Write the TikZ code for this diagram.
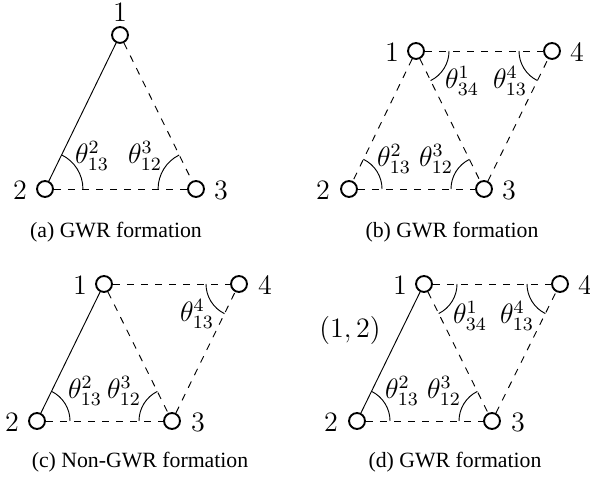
\documentclass[tikz,border=0pt]{standalone}
\usepackage{fontspec}
\newfontfamily\capfont{Liberation Serif}
\usetikzlibrary{angles}
\tikzset{
  vtx/.style={circle, draw, line width=0.8pt, minimum size=6.8pt, inner sep=0pt, fill=white},
  lbl/.style={inner sep=0pt, font=\fontsize{12}{14}\selectfont},
  captxt/.style={inner sep=0pt, font=\capfont\fontsize{9.3}{11}\selectfont},
  sedge/.style={line width=0.4pt},
  dedge/.style={line width=0.4pt, dashed},
  bigang/.style={draw, line width=0.4pt, angle radius=16.2pt},
  ang/.style={draw, line width=0.4pt, angle radius=14.1pt}
}
\begin{document}
\begin{tikzpicture}[x=0.4271pt, y=0.4271pt]
\useasboundingbox (0,0) rectangle (590,481);
% ---------- (a)
\node[vtx] (a1) at (120,446) {};
\node[vtx] (a2) at (45,292) {};
\node[vtx] (a3) at (196,292) {};
\node[lbl] (la1) at (120,469) {$1$};
\node[lbl] (la2) at (20,291) {$2$};
\node[lbl] (la3) at (221,291) {$3$};
\draw[sedge] (a1) -- (a2);
\draw[dedge] (a1) -- (a3);
\draw[dedge] (a2) -- (a3);
\pic[bigang] {angle = a3--a2--a1};
\pic[bigang] {angle = a1--a3--a2};
\node[lbl] (ta1) at (92,325) {$\theta^2_{13}$};
\node[lbl] (ta2) at (145,325) {$\theta^3_{12}$};
\node[captxt] (capa) at (116,249) {(a) GWR formation};
% ---------- (b)
\node[vtx] (b1) at (416,430) {};
\node[vtx] (b4) at (552,430) {};
\node[vtx] (b2) at (349,292) {};
\node[vtx] (b3) at (484,292) {};
\node[lbl] (lb1) at (392,429) {$1$};
\node[lbl] (lb4) at (577,429) {$4$};
\node[lbl] (lb2) at (323,291) {$2$};
\node[lbl] (lb3) at (509,291) {$3$};
\draw[dedge] (b1) -- (b2);
\draw[dedge] (b1) -- (b3);
\draw[dedge] (b1) -- (b4);
\draw[dedge] (b2) -- (b3);
\draw[dedge] (b3) -- (b4);
\pic[ang] {angle = b3--b1--b4};
\pic[ang] {angle = b1--b4--b3};
\pic[ang] {angle = b3--b2--b1};
\pic[ang] {angle = b1--b3--b2};
\node[lbl] (tb1) at (462,400) {$\theta^1_{34}$};
\node[lbl] (tb2) at (510,400) {$\theta^4_{13}$};
\node[lbl] (tb3) at (394,322) {$\theta^2_{13}$};
\node[lbl] (tb4) at (436,322) {$\theta^3_{12}$};
\node[captxt] (capb) at (452,249) {(b) GWR formation};
% ---------- (c)
\node[vtx] (c1) at (104,197) {};
\node[vtx] (c4) at (239,197) {};
\node[vtx] (c2) at (37,60) {};
\node[vtx] (c3) at (172,60) {};
\node[lbl] (lc1) at (80,196) {$1$};
\node[lbl] (lc4) at (265,196) {$4$};
\node[lbl] (lc2) at (12,59) {$2$};
\node[lbl] (lc3) at (198,59) {$3$};
\draw[sedge] (c1) -- (c2);
\draw[dedge] (c1) -- (c3);
\draw[dedge] (c1) -- (c4);
\draw[dedge] (c2) -- (c3);
\draw[dedge] (c3) -- (c4);
\pic[ang] {angle = c1--c4--c3};
\pic[ang] {angle = c3--c2--c1};
\pic[ang] {angle = c1--c3--c2};
\node[lbl] (tc1) at (197,167) {$\theta^4_{13}$};
\node[lbl] (tc2) at (85,90) {$\theta^2_{13}$};
\node[lbl] (tc3) at (124,90) {$\theta^3_{12}$};
\node[captxt] (capc) at (140,19) {(c) Non-GWR formation};
% ---------- (d)
\node[vtx] (d1) at (424,197) {};
\node[vtx] (d4) at (560,197) {};
\node[vtx] (d2) at (357,60) {};
\node[vtx] (d3) at (492,60) {};
\node[lbl] (ld1) at (400,196) {$1$};
\node[lbl] (ld4) at (585,196) {$4$};
\node[lbl] (ld2) at (331,59) {$2$};
\node[lbl] (ld3) at (518,59) {$3$};
\draw[sedge] (d1) -- (d2);
\draw[dedge] (d1) -- (d3);
\draw[dedge] (d1) -- (d4);
\draw[dedge] (d2) -- (d3);
\draw[dedge] (d3) -- (d4);
\pic[ang] {angle = d3--d1--d4};
\pic[ang] {angle = d1--d4--d3};
\pic[ang] {angle = d3--d2--d1};
\pic[ang] {angle = d1--d3--d2};
\node[lbl] (td1) at (470,165) {$\theta^1_{34}$};
\node[lbl] (td2) at (517,165) {$\theta^4_{13}$};
\node[lbl] (td3) at (402,90) {$\theta^2_{13}$};
\node[lbl] (td4) at (444,90) {$\theta^3_{12}$};
\node[lbl] (e12) at (350,151) {$(1,2)$};
\node[captxt] (capd) at (455,19) {(d) GWR formation};
\end{tikzpicture}
\end{document}
